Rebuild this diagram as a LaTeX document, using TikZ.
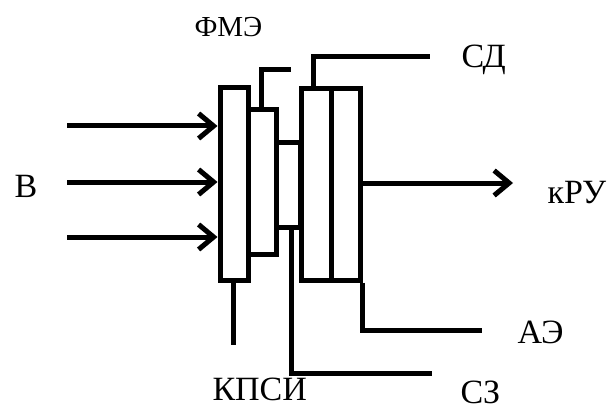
\documentclass[tikz,border=0pt]{standalone}
\usepackage{fontspec}
\setmainfont{Liberation Serif}
\usetikzlibrary{arrows.meta}

\begin{document}
\begin{tikzpicture}[x = 1pt, y = -1pt, line width = 5pt,
    blk/.style = {draw, inner sep = 0pt, minimum width = #1},
    lbl/.style = {inner sep = 0pt, anchor = base west, font = \fontsize{34}{40}\selectfont},
    sig/.style = {-{Straight Barb[length = 15pt, width = 25pt]}}]
    \useasboundingbox (0, 0) rectangle (613, 409);
    \node (kpsi) at (  234,   184) [blk = 28pt, minimum height = 192pt] {};
    \node (fme)  at (  262,   182) [blk = 28pt, minimum height = 144pt] {};
    \node (sz)   at (  288,   185) [blk = 24pt, minimum height = 85pt] {};
    \node (sd)   at (  316, 184.5) [blk = 30pt, minimum height = 191pt] {};
    \node (ae)   at (345.5, 184.5) [blk = 29pt, minimum height = 191pt] {};
    \coordinate (fmeout)  at (291,  70);
    \coordinate (sdout)   at (430,  57);
    \coordinate (aeout)   at (482, 330);
    \coordinate (szout)   at (432, 373);
    \coordinate (kpsiout) at (233, 345);
    \coordinate (out)     at (513, 183);
    \draw ([xshift = -1pt]fme.north) |- (fmeout);
    \draw ([xshift = -3pt]sd.north) |- (sdout);
    \draw (ae.south east) |- (aeout);
    \draw ([xshift = 3pt]sz.south) |- (szout);
    \draw ([xshift = -1pt]kpsi.south) -- (kpsiout);
    \foreach \y/\n in {126/1, 182/2, 237/3} {
      \coordinate (in\n) at (67, \y);
      \draw [sig] (in\n) -- (in\n -| kpsi.west);
    }
    \draw [sig] (ae.east |- out) -- (out);
    \node (vlbl)    at ( 12, 197) [lbl] {В};
    \node (fmelbl)  at (192,  37) [lbl, font = \fontsize{29}{34}\selectfont] {ФМЭ};
    \node (sdlbl)   at (459,  68) [lbl] {СД};
    \node (krulbl)  at (545, 203) [lbl] {кРУ};
    \node (aelbl)   at (515, 343) [lbl] {АЭ};
    \node (szlbl)   at (458, 403) [lbl] {СЗ};
    \node (kpsilbl) at (210, 400) [lbl] {КПСИ};
  \end{tikzpicture}
\end{document}
